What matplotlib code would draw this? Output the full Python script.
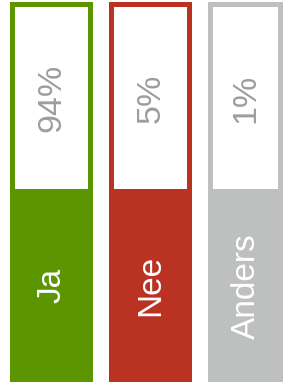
import matplotlib
matplotlib.use("Agg")
import matplotlib.pyplot as plt

# --- data ---
labels = ["Ja", "Nee", "Anders"]
percentages = [94, 5, 1]
colors = ["#5b9600", "#b93222", "#bebfbf"]

# --- layout (pixel units) ---
W, H = 283, 383
col_left0 = 9.5
col_step = 99.0
col_widths = [83.0, 83.5, 75.5]
col_top, col_bottom = 1.7, 382.3
border = 5.0
split_y = 189.3

plt.rcParams["font.family"] = ["Liberation Sans", "DejaVu Sans"]

fig = plt.figure(figsize=(W / 100, H / 100), dpi=100)
ax = fig.add_axes([0, 0, 1, 1])
ax.set_xlim(0, W)
ax.set_ylim(H, 0)
ax.axis("off")

for i, (lab, pct, c) in enumerate(zip(labels, percentages, colors)):
    left = col_left0 + i * col_step
    w = col_widths[i]
    # gekleurde kolom
    ax.bar(left, col_bottom - col_top, bottom=col_top, width=w,
           align="edge", color=c, linewidth=0)
    # wit vak bovenaan
    ax.bar(left + border, split_y - (col_top + border), bottom=col_top + border,
           width=w - 2 * border, align="edge", color="white", linewidth=0)
    cx = left + w / 2 + 1
    ax.text(cx, (col_top + border + split_y) / 2, f"{pct}%", rotation=90,
            ha="center", va="center", fontsize=24.5, color="#9d9d9d")
    ax.text(cx, (split_y + col_bottom) / 2, lab, rotation=90,
            ha="center", va="center", fontsize=24, color="white")

fig.savefig("out.png", dpi=100)
